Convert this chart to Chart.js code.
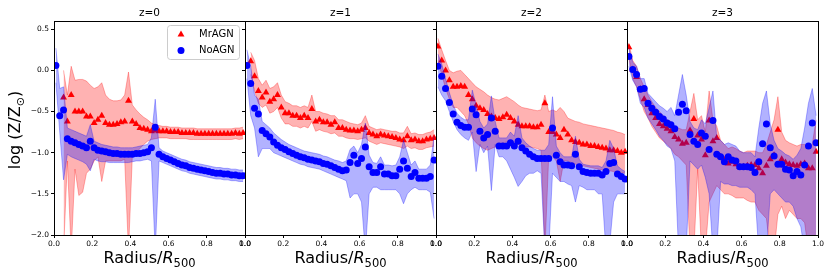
<!DOCTYPE html>
<html>
<head>
<meta charset="utf-8">
<script src="https://cdn.jsdelivr.net/npm/chart.js@4.4.0/dist/chart.umd.min.js"></script>
<style>
  body { margin: 0; background: #fff; }
  #wrap { position: relative; width: 831px; height: 276px; }
  #wrap canvas { position: absolute; left: 0; top: 0; }
</style>
</head>
<body>
<div id="wrap">
  <canvas id="p0" width="831" height="276"></canvas>
  <canvas id="p1" width="831" height="276"></canvas>
  <canvas id="p2" width="831" height="276"></canvas>
  <canvas id="p3" width="831" height="276"></canvas>
</div>
<script>
// ---- data (log Z/Zsun vs Radius/R500) ----
const panelTitles = ['z=0', 'z=1', 'z=2', 'z=3'];
const xTicks = [0.0, 0.2, 0.4, 0.6, 0.8, 1.0];
const yTicks = [-2.0, -1.5, -1.0, -0.5, 0.0, 0.5];
const radius = [0.01, 0.03, 0.05, 0.07, 0.09, 0.11, 0.13, 0.15, 0.17, 0.19,
  0.21, 0.23, 0.25, 0.27, 0.29, 0.31, 0.33, 0.35, 0.37, 0.39,
  0.41, 0.43, 0.45, 0.47, 0.49, 0.51, 0.53, 0.55, 0.57, 0.59,
  0.61, 0.63, 0.65, 0.67, 0.69, 0.71, 0.73, 0.75, 0.77, 0.79,
  0.81, 0.83, 0.85, 0.87, 0.89, 0.91, 0.93, 0.95, 0.97, 0.99];

// z = 0
const mrAgnZ0 = [null, null, -0.33, -0.62, -0.30, -0.50, -0.50, -0.50, -0.56, -0.56,
  -0.64, -0.60, -0.55, -0.64, -0.66, -0.66, -0.65, -0.63, -0.62, -0.37,
  -0.62, -0.65, -0.70, -0.71, -0.72, -0.74, -0.73, -0.74, -0.74, -0.74,
  -0.75, -0.75, -0.75, -0.76, -0.76, -0.76, -0.76, -0.77, -0.77, -0.77,
  -0.77, -0.77, -0.77, -0.77, -0.77, -0.77, -0.77, -0.76, -0.77, -0.76];
const mrAgnZ0Hi = [null, null, 0.00, -0.30, 0.05, -0.12, -0.11, -0.11, -0.13, -0.18,
  -0.22, -0.20, -0.15, -0.30, -0.35, -0.37, -0.37, -0.36, -0.30, -0.02,
  -0.42, -0.48, -0.53, -0.57, -0.60, -0.64, -0.66, -0.67, -0.68, -0.68,
  -0.69, -0.69, -0.69, -0.70, -0.70, -0.70, -0.70, -0.71, -0.71, -0.71,
  -0.71, -0.71, -0.71, -0.71, -0.71, -0.71, -0.71, -0.70, -0.70, -0.69];
const mrAgnZ0Lo = [null, null, -2.20, -1.10, -2.20, -1.20, -1.52, -1.48, -1.25, -1.20,
  -1.10, -1.05, -1.35, -1.10, -1.10, -1.10, -1.10, -1.10, -1.08, -2.20,
  -1.05, -1.00, -0.95, -0.90, -0.86, -0.84, -0.83, -0.82, -0.82, -0.82,
  -0.83, -0.83, -0.83, -0.83, -0.83, -0.84, -0.84, -0.84, -0.84, -0.84,
  -0.84, -0.84, -0.84, -0.84, -0.84, -0.84, -0.84, -0.83, -0.84, -0.83];
const noAgnZ0 = [0.06, -0.55, -0.48, -0.83, -0.86, -0.88, -0.90, -0.92, -0.94, -0.86,
  -0.94, -0.97, -0.98, -0.99, -1.00, -1.01, -1.01, -1.02, -1.02, -1.02,
  -1.02, -1.01, -1.01, -1.00, -0.99, -0.94, -0.69, -1.02, -1.05, -1.07,
  -1.09, -1.11, -1.13, -1.15, -1.16, -1.18, -1.19, -1.20, -1.21, -1.22,
  -1.23, -1.24, -1.25, -1.25, -1.26, -1.26, -1.27, -1.27, -1.28, -1.28];
const noAgnZ0Hi = [0.27, -0.22, -0.20, -0.70, -0.72, -0.74, -0.76, -0.78, -0.80, -0.66,
  -0.86, -0.88, -0.90, -0.91, -0.92, -0.93, -0.93, -0.94, -0.94, -0.94,
  -0.94, -0.93, -0.92, -0.91, -0.90, -0.82, -0.35, -0.94, -0.98, -1.00,
  -1.02, -1.04, -1.06, -1.08, -1.09, -1.11, -1.12, -1.13, -1.14, -1.15,
  -1.16, -1.17, -1.18, -1.18, -1.19, -1.19, -1.20, -1.20, -1.21, -1.21];
const noAgnZ0Lo = [-0.15, -0.75, -1.33, -1.02, -1.05, -1.07, -1.09, -1.11, -1.14, -1.22,
  -1.08, -1.10, -1.11, -1.11, -1.12, -1.12, -1.12, -1.12, -1.12, -1.12,
  -1.11, -1.10, -1.10, -1.09, -1.08, -1.10, -2.20, -1.10, -1.12, -1.14,
  -1.16, -1.18, -1.20, -1.22, -1.23, -1.25, -1.26, -1.27, -1.28, -1.29,
  -1.30, -1.31, -1.32, -1.32, -1.33, -1.33, -1.34, -1.34, -1.35, -1.35];

// z = 1
const mrAgnZ1 = [null, 0.11, -0.07, -0.25, -0.33, -0.27, -0.38, -0.35, -0.30, -0.45,
  -0.52, -0.52, -0.55, -0.55, -0.58, -0.55, -0.58, -0.47, -0.62, -0.60,
  -0.63, -0.63, -0.66, -0.63, -0.70, -0.70, -0.72, -0.73, -0.73, -0.74,
  -0.72, -0.70, -0.76, -0.78, -0.80, -0.78, -0.79, -0.80, -0.81, -0.82,
  -0.84, -0.85, -0.80, -0.85, -0.84, -0.86, -0.86, -0.84, -0.83, -0.82];
const mrAgnZ1Hi = [null, 0.22, 0.12, -0.10, -0.18, -0.12, -0.22, -0.20, -0.15, -0.30,
  -0.38, -0.40, -0.43, -0.43, -0.45, -0.43, -0.45, -0.30, -0.50, -0.50,
  -0.52, -0.53, -0.55, -0.55, -0.60, -0.60, -0.62, -0.64, -0.65, -0.66,
  -0.64, -0.55, -0.68, -0.70, -0.72, -0.71, -0.72, -0.73, -0.74, -0.74,
  -0.76, -0.76, -0.68, -0.77, -0.76, -0.78, -0.78, -0.76, -0.75, -0.72];
const mrAgnZ1Lo = [null, -0.05, -0.25, -0.40, -0.45, -0.42, -0.52, -0.50, -0.45, -0.58,
  -0.65, -0.65, -0.68, -0.68, -0.70, -0.68, -0.70, -0.62, -0.74, -0.72,
  -0.74, -0.75, -0.77, -0.76, -0.80, -0.80, -0.82, -0.83, -0.83, -0.84,
  -0.83, -0.82, -0.86, -0.88, -0.90, -0.88, -0.89, -0.90, -0.91, -0.92,
  -0.93, -0.95, -0.92, -0.95, -0.94, -0.96, -0.96, -0.94, -0.93, -0.92];
const noAgnZ1 = [0.06, -0.16, -0.46, -0.53, -0.73, -0.77, -0.81, -0.87, -0.91, -0.94,
  -0.96, -0.99, -1.01, -1.03, -1.05, -1.06, -1.08, -1.09, -1.10, -1.11,
  -1.13, -1.14, -1.16, -1.18, -1.20, -1.22, -1.21, -1.12, -1.03, -1.13,
  -1.07, -0.93, -1.17, -1.24, -1.24, -1.17, -1.26, -1.26, -1.28, -1.28,
  -1.20, -1.10, -1.19, -1.29, -1.24, -1.31, -1.31, -1.31, -1.29, -1.09];
const noAgnZ1Hi = [0.25, 0.05, -0.30, -0.35, -0.62, -0.66, -0.70, -0.76, -0.80, -0.84,
  -0.87, -0.90, -0.92, -0.94, -0.96, -0.98, -0.99, -1.00, -1.01, -1.02,
  -1.04, -1.05, -1.07, -1.09, -1.10, -1.12, -1.10, -0.96, -0.92, -1.00,
  -0.90, -0.64, -1.03, -1.12, -1.13, -1.05, -1.15, -1.15, -1.16, -1.15,
  -1.05, -0.85, -1.00, -1.15, -1.10, -1.20, -1.20, -1.20, -1.15, -0.80];
const noAgnZ1Lo = [-0.10, -0.55, -0.70, -1.05, -0.95, -0.95, -0.95, -1.00, -1.02, -1.04,
  -1.06, -1.08, -1.10, -1.12, -1.14, -1.15, -1.17, -1.18, -1.19, -1.20,
  -1.22, -1.24, -1.26, -1.28, -1.30, -1.32, -1.34, -1.55, -1.50, -1.50,
  -1.60, -2.20, -1.50, -1.42, -1.42, -1.45, -1.45, -1.45, -1.45, -1.45,
  -1.50, -1.62, -1.50, -1.45, -1.42, -1.45, -1.45, -1.45, -1.48, -1.80];

// z = 2
const mrAgnZ2 = [0.29, 0.12, 0.00, -0.12, -0.20, -0.20, -0.19, -0.20, -0.30, -0.35,
  -0.43, -0.46, -0.48, -0.53, -0.56, -0.58, -0.59, -0.57, -0.54, -0.58,
  -0.62, -0.66, -0.68, -0.68, -0.68, -0.69, -0.69, -0.66, -0.40, -0.75,
  -0.75, -0.78, -0.82, -0.72, -0.78, -0.85, -0.87, -0.88, -0.90, -0.90,
  -0.92, -0.92, -0.93, -0.94, -0.95, -0.97, -0.97, -0.98, -1.00, -0.99];
const mrAgnZ2Hi = [0.39, 0.25, 0.12, 0.00, -0.03, -0.01, 0.00, -0.05, -0.10, -0.15,
  -0.20, -0.23, -0.26, -0.30, -0.33, -0.35, -0.36, -0.34, -0.32, -0.35,
  -0.38, -0.42, -0.45, -0.46, -0.47, -0.48, -0.49, -0.48, -0.30, -0.50,
  -0.48, -0.50, -0.45, -0.50, -0.58, -0.60, -0.62, -0.63, -0.65, -0.66,
  -0.67, -0.68, -0.69, -0.70, -0.71, -0.72, -0.73, -0.75, -0.76, -0.78];
const mrAgnZ2Lo = [0.12, -0.05, -0.22, -0.35, -0.45, -0.45, -0.50, -0.55, -0.65, -0.82,
  -0.88, -0.92, -0.95, -0.97, -0.95, -0.93, -0.90, -0.88, -0.87, -0.88,
  -0.90, -0.90, -0.92, -0.93, -0.93, -0.94, -0.95, -0.97, -2.20, -1.05,
  -1.05, -1.10, -1.35, -1.10, -1.10, -1.12, -1.14, -1.15, -1.16, -1.17,
  -1.18, -1.19, -1.20, -1.21, -1.22, -1.22, -1.23, -1.24, -1.24, -1.25];
const noAgnZ2 = [0.05, -0.07, -0.22, -0.39, -0.53, -0.63, -0.67, -0.69, -0.69, -0.47,
  -0.54, -0.74, -0.82, -0.78, -0.58, -0.74, -0.92, -0.92, -0.92, -0.88,
  -0.92, -0.86, -0.94, -0.98, -1.02, -1.05, -1.07, -1.07, -1.07, -1.07,
  -0.70, -1.03, -1.11, -1.15, -1.15, -1.16, -1.02, -1.17, -1.23, -1.24,
  -1.25, -1.25, -1.25, -1.27, -1.23, -1.13, -1.12, -1.26, -1.29, -1.32];
const noAgnZ2Hi = [0.20, 0.08, -0.10, -0.27, -0.42, -0.52, -0.57, -0.60, -0.60, -0.24,
  -0.42, -0.62, -0.70, -0.65, -0.31, -0.62, -0.82, -0.82, -0.82, -0.75,
  -0.80, -0.55, -0.82, -0.88, -0.92, -0.95, -0.97, -0.97, -0.97, -0.90,
  -0.32, -0.92, -1.00, -1.05, -1.05, -1.05, -0.80, -1.08, -1.14, -1.15,
  -1.16, -1.16, -1.16, -1.18, -1.10, -0.85, -0.95, -1.16, -1.20, -1.23];
const noAgnZ2Lo = [-0.20, -0.30, -0.37, -0.50, -0.62, -0.72, -0.78, -0.82, -0.85, -0.75,
  -1.23, -0.90, -1.00, -0.92, -1.46, -0.90, -1.05, -1.05, -1.10, -1.20,
  -1.30, -1.41, -1.35, -1.28, -1.25, -1.25, -1.22, -1.25, -2.20, -2.20,
  -1.25, -1.30, -1.35, -1.35, -1.38, -1.40, -1.60, -1.40, -1.42, -1.45,
  -1.45, -1.45, -1.50, -1.50, -2.20, -2.10, -1.60, -1.50, -1.50, -1.50];

// z = 3
const mrAgnZ3 = [0.28, 0.01, -0.08, -0.23, -0.35, -0.42, -0.52, -0.58, -0.65, -0.68,
  -0.71, -0.74, -0.81, -0.84, -0.89, -0.88, -0.73, -0.59, -0.79, -0.84,
  -1.03, -0.61, -0.86, -0.82, -1.05, -1.09, -1.13, -1.11, -1.14, -1.17,
  -1.17, -1.16, -1.15, -1.15, -1.19, -1.25, -1.16, -1.08, -1.03, -0.72,
  -1.08, -1.12, -1.14, -1.15, -1.16, -1.14, -1.13, -1.19, -1.19, -0.99];
const mrAgnZ3Hi = [0.33, 0.12, 0.05, -0.10, -0.20, -0.30, -0.38, -0.45, -0.50, -0.55,
  -0.60, -0.62, -0.68, -0.70, -0.72, -0.72, -0.50, -0.28, -0.60, -0.55,
  -0.75, -0.25, -0.60, -0.68, -0.85, -0.90, -0.95, -0.93, -0.95, -0.98,
  -1.00, -0.98, -0.98, -0.98, -1.00, -1.00, -0.90, -0.75, -0.60, -0.32,
  -0.75, -0.85, -0.88, -0.90, -0.92, -0.90, -0.90, -0.95, -0.90, -0.60];
const mrAgnZ3Lo = [0.15, -0.10, -0.20, -0.35, -0.50, -0.58, -0.68, -0.75, -0.82, -0.86,
  -0.90, -0.95, -1.02, -1.05, -1.10, -1.15, -2.20, -2.20, -1.20, -2.20,
  -2.20, -1.60, -1.50, -1.40, -1.45, -1.50, -1.50, -1.52, -1.55, -1.55,
  -1.55, -1.58, -1.60, -1.60, -1.70, -1.75, -1.80, -2.20, -2.20, -1.75,
  -1.65, -1.80, -1.70, -1.75, -1.80, -1.80, -1.85, -2.20, -2.20, -2.20];
const noAgnZ3 = [0.17, 0.01, -0.05, -0.23, -0.22, -0.40, -0.46, -0.51, -0.56, -0.59,
  -0.64, -0.66, -0.71, -0.51, -0.41, -0.49, -0.78, -0.86, -0.90, -0.76,
  -0.80, -0.96, -0.61, -1.02, -1.05, -1.11, -1.05, -1.09, -1.10, -1.17,
  -1.17, -1.17, -1.18, -1.24, -1.11, -0.89, -0.65, -0.94, -1.04, -1.14,
  -1.14, -1.20, -1.21, -1.28, -1.23, -1.27, -1.15, -0.92, -0.64, -0.88];
const noAgnZ3Hi = [0.27, 0.10, 0.05, -0.10, -0.10, -0.28, -0.33, -0.38, -0.43, -0.46,
  -0.50, -0.45, -0.55, -0.30, -0.05, -0.30, -0.62, -0.70, -0.72, -0.60,
  -0.65, -0.45, -0.25, -0.82, -0.85, -0.90, -0.88, -0.90, -0.92, -0.98,
  -1.00, -1.00, -1.00, -1.05, -0.70, -0.40, -0.25, -0.65, -0.85, -0.95,
  -0.98, -1.02, -1.04, -1.08, -1.03, -0.95, -0.70, -0.40, -0.22, -0.55];
const noAgnZ3Lo = [0.05, -0.12, -0.20, -0.40, -0.45, -0.58, -0.65, -0.72, -0.80, -0.85,
  -0.92, -0.95, -1.10, -2.20, -2.20, -2.20, -1.10, -1.15, -1.20, -1.15,
  -1.30, -1.50, -2.20, -2.20, -1.35, -1.38, -1.38, -1.40, -1.40, -1.42,
  -1.42, -1.42, -1.45, -1.50, -2.20, -2.20, -2.20, -1.50, -1.45, -1.50,
  -1.55, -1.60, -1.60, -1.65, -1.80, -1.90, -2.20, -2.20, -2.20, -2.20];

// ---- layout / style ----
const W = 831, H = 276;
const panelLeft = [54, 245, 436, 627];
const panelWidth = 191, plotTop = 21, plotBottom = 235;
const yAxisBox = 30;   // room kept for y tick labels left of each panel
const RED = '#ff0000', BLUE = '#0000ff';
const RED_BAND = 'rgba(255,0,0,0.3)', BLUE_BAND = 'rgba(0,0,255,0.3)';
const FONT = '"DejaVu Sans", sans-serif';

const panels = [
  { mr: mrAgnZ0, mrHi: mrAgnZ0Hi, mrLo: mrAgnZ0Lo, no: noAgnZ0, noHi: noAgnZ0Hi, noLo: noAgnZ0Lo },
  { mr: mrAgnZ1, mrHi: mrAgnZ1Hi, mrLo: mrAgnZ1Lo, no: noAgnZ1, noHi: noAgnZ1Hi, noLo: noAgnZ1Lo },
  { mr: mrAgnZ2, mrHi: mrAgnZ2Hi, mrLo: mrAgnZ2Lo, no: noAgnZ2, noHi: noAgnZ2Hi, noLo: noAgnZ2Lo },
  { mr: mrAgnZ3, mrHi: mrAgnZ3Hi, mrLo: mrAgnZ3Lo, no: noAgnZ3, noHi: noAgnZ3Hi, noLo: noAgnZ3Lo }
];

function pts(ys) {
  return radius.map((r, i) => ({ x: r, y: ys[i] }));
}

function fmt(v) {
  return v.toFixed(1).replace('-', '\u2212');
}

// mixed-font text (for sub/italic parts), centred on cx
function drawParts(ctx, parts, cx, baseline) {
  ctx.textAlign = 'left';
  ctx.textBaseline = 'alphabetic';
  let total = 0;
  parts.forEach(p => { ctx.font = p.font; p.w = ctx.measureText(p.text).width; total += p.w; });
  let x = cx - total / 2;
  parts.forEach(p => {
    ctx.font = p.font;
    ctx.fillText(p.text, x, baseline + (p.dy || 0));
    x += p.w;
  });
}

function triangle(ctx, x, y, r) {
  ctx.beginPath();
  ctx.moveTo(x, y - r);
  ctx.lineTo(x + r * 0.866, y + r * 0.5);
  ctx.lineTo(x - r * 0.866, y + r * 0.5);
  ctx.closePath();
  ctx.fill();
}

const framePlugin = {
  id: 'frame',
  afterDraw(chart, args, opts) {
    const ctx = chart.ctx;
    const a = chart.chartArea;
    const cx = (a.left + a.right) / 2;
    ctx.save();
    ctx.strokeStyle = '#000';
    ctx.lineWidth = 1;
    ctx.strokeRect(Math.round(a.left) + 0.5, Math.round(a.top) + 0.5,
      Math.round(a.right - a.left), Math.round(a.bottom - a.top));

    ctx.fillStyle = '#000';
    ctx.font = '10.5px ' + FONT;
    ctx.textAlign = 'center';
    ctx.textBaseline = 'alphabetic';
    ctx.fillText(panelTitles[opts.index], cx, 16);

    drawParts(ctx, [
      { text: 'Radius/', font: '16px ' + FONT },
      { text: 'R', font: 'italic 16px ' + FONT },
      { text: '500', font: '11.5px ' + FONT, dy: 4 }
    ], cx, 263);

    if (opts.index === 0) {
      // y title
      ctx.save();
      ctx.translate(20, 130);
      ctx.rotate(-Math.PI / 2);
      drawParts(ctx, [
        { text: 'log (Z/Z', font: '16px ' + FONT },
        { text: '\u2299', font: '11px ' + FONT, dy: 3.5 },
        { text: ')', font: '16px ' + FONT }
      ], 0, 0);
      ctx.restore();

      // legend
      ctx.beginPath();
      if (ctx.roundRect) ctx.roundRect(167.5, 25.5, 72, 34, 3);
      else ctx.rect(167.5, 25.5, 72, 34);
      ctx.fillStyle = 'rgba(255,255,255,0.8)';
      ctx.fill();
      ctx.strokeStyle = '#cccccc';
      ctx.stroke();
      ctx.fillStyle = RED;
      triangle(ctx, 181, 34.5, 4);
      ctx.fillStyle = BLUE;
      ctx.beginPath();
      ctx.arc(181, 50.5, 3.5, 0, Math.PI * 2);
      ctx.fill();
      ctx.fillStyle = '#000';
      ctx.font = '10px ' + FONT;
      ctx.textAlign = 'left';
      ctx.textBaseline = 'middle';
      ctx.fillText('MrAGN', 199, 34.5);
      ctx.fillText('NoAGN', 199, 50.5);
    }
    ctx.restore();
  }
};

function makeChart(i) {
  const p = panels[i];
  const left = panelLeft[i];
  // drawn back to front: red band, red points, blue band, blue points
  const datasets = [
    { data: pts(p.no), showLine: false, pointStyle: 'circle', pointRadius: 3.5,
      pointBackgroundColor: BLUE, pointBorderWidth: 0 },
    { data: pts(p.noHi), borderColor: BLUE_BAND, borderWidth: 1, backgroundColor: BLUE_BAND,
      pointRadius: 0, fill: '+1' },
    { data: pts(p.noLo), borderColor: BLUE_BAND, borderWidth: 1, pointRadius: 0, fill: false },
    { data: pts(p.mr), showLine: false, pointStyle: 'triangle', pointRadius: 4,
      pointBackgroundColor: RED, pointBorderWidth: 0 },
    { data: pts(p.mrHi), borderColor: RED_BAND, borderWidth: 1, backgroundColor: RED_BAND,
      pointRadius: 0, fill: '+1' },
    { data: pts(p.mrLo), borderColor: RED_BAND, borderWidth: 1, pointRadius: 0, fill: false }
  ];

  new Chart(document.getElementById('p' + i), {
    type: 'line',
    data: { datasets },
    options: {
      responsive: false,
      animation: false,
      devicePixelRatio: 1,
      layout: { padding: { left: left - yAxisBox, right: W - left - panelWidth, top: plotTop, bottom: 0 } },
      plugins: {
        legend: { display: false },
        tooltip: { enabled: false },
        title: { display: false },
        frame: { index: i }
      },
      scales: {
        x: {
          type: 'linear', min: 0, max: 1,
          afterFit: s => { s.height = H - plotBottom; },
          afterBuildTicks: s => { s.ticks = xTicks.map(v => ({ value: v })); },
          ticks: { callback: v => fmt(v), color: '#000', font: { size: 7.5, family: FONT },
            padding: 2, maxRotation: 0, autoSkip: false },
          grid: { drawOnChartArea: false, drawTicks: true, tickLength: 3, color: '#000' },
          border: { display: false }
        },
        y: {
          type: 'linear', min: -2, max: 0.6,
          afterFit: s => { s.width = yAxisBox; },
          afterBuildTicks: s => { s.ticks = yTicks.map(v => ({ value: v })); },
          ticks: { display: i === 0, callback: v => fmt(v), color: '#000',
            font: { size: 7.5, family: FONT }, padding: 2 },
          grid: { drawOnChartArea: false, drawTicks: true, tickLength: 3, color: '#000' },
          border: { display: false }
        }
      }
    },
    plugins: [framePlugin]
  });
}

[0, 1, 2, 3].forEach(makeChart);
</script>
</body>
</html>
